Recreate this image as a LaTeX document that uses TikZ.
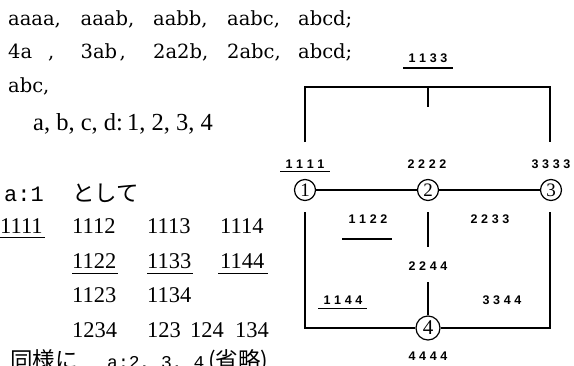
\documentclass[tikz,border=0pt]{standalone}
\usepackage{fontspec}
\setmainfont{Liberation Serif}
\newfontfamily\monof{Liberation Mono}
\newfontfamily\wsf{DejaVu Serif}
\newfontfamily\jpf{Noto Sans CJK JP}
\newfontfamily\labf{Liberation Sans}
\newcommand\gp{\hspace{3.6pt}}
\newcommand\lab[4]{#1\gp#2\gp#3\gp#4}
\begin{document}
\begin{tikzpicture}[x=1pt,y=-1pt,
  wrd/.style={anchor=base west,inner sep=0pt,font=\wsf\fontsize{19.5}{22}\selectfont},
  ser/.style={anchor=base west,inner sep=0pt,font=\fontsize{22.5}{26}\selectfont},
  monob/.style={anchor=base west,inner sep=0pt,font=\monof\fontsize{22}{24}\selectfont},
  jp/.style={anchor=base west,inner sep=0pt,font=\jpf\fontsize{22.5}{26}\selectfont},
  lab/.style={anchor=base,inner sep=0pt,font=\labf\bfseries\fontsize{12.5}{14}\selectfont},
  wire/.style={line width=1.3pt},
  uline/.style={line width=1.3pt},
  vtx/.style={circle,draw,line width=1.2pt,inner sep=0pt,minimum size=21pt,font=\fontsize{19}{20}\selectfont}]
\useasboundingbox (0,0) rectangle (574,365);
\clip (0,0) rectangle (574,365);
\fill[white] (0,0) rectangle (574,365);
% --- top text lines
\node[wrd] (w11) at (8,25) {aaaa,};
\node[wrd] (w12) at (80.5,25) {aaab,};
\node[wrd] (w13) at (153,25) {aabb,};
\node[wrd] (w14) at (227,25) {aabc,};
\node[wrd] (w15) at (298,25) {abcd;};
\node[wrd] (w21) at (8,58) {\makebox[40pt][l]{4a},};
\node[wrd] (w22) at (80.5,58) {\makebox[39pt][l]{3ab},};
\node[wrd] (w23) at (153,58) {2a2b,};
\node[wrd] (w24) at (227,58) {2abc,};
\node[wrd] (w25) at (298,58) {abcd;};
\node[wrd] (w31) at (8,92) {abc,};
\node[ser,font=\fontsize{24.5}{28}\selectfont] (w41) at (33,130) {a, b, c, d:\,1, 2, 3, 4};
% --- a:1 block
\node[monob] (a1) at (4,201) {a:1};
\node[jp] (toshite) at (72,201) {として};
\node[ser] (n1111) at (0,233) {1111};
\node[ser] (n1112) at (72,233) {1112};
\node[ser] (n1113) at (147,233) {1113};
\node[ser] (n1114) at (220,233) {1114};
\node[ser] (n1122) at (72,268) {1122};
\node[ser] (n1133) at (147,268) {1133};
\node[ser] (n1144) at (220,268) {1144};
\node[ser] (n1123) at (72,302) {1123};
\node[ser] (n1134) at (147,302) {1134};
\node[ser] (n1234) at (72,337) {1234};
\node[ser] (n123) at (147,337) {123};
\node[ser] (n124) at (190,337) {124};
\node[ser] (n134) at (235,337) {134};
\draw[uline] (n1111.south west) ++(0,4) -- ++(45,0);
\draw[uline] (n1122.south west) ++(0,5) -- ++(46,0);
\draw[uline] (n1133.south west) ++(0,5) -- ++(46,0);
\draw[uline] (n1144.south west) ++(-2,5) -- ++(50,0);
\node[jp] (doyo) at (10,368) {同様に};
\node[monob,font=\monof\fontsize{18}{20}\selectfont] (a234) at (107,368) {a:2, 3, 4};
\node[jp] (ryaku) at (208,368) {(省略)};
% --- diagram
\node[vtx] (v1) at (305,190) {1};
\node[vtx] (v2) at (428,190) {2};
\node[vtx] (v3) at (551,190) {3};
\node[vtx,minimum size=24pt,font=\fontsize{21}{22}\selectfont] (v4) at (428,328) {4};
\coordinate (tl) at (305,87);
\coordinate (tr) at (550,87);
\coordinate (tm) at (428,87);
\coordinate (tmb) at (428,107);
\coordinate (lb) at (305,142);
\coordinate (rb) at (550,142);
\coordinate (l2) at (305,212);
\coordinate (r2) at (550,212);
\coordinate (c2) at (428,212);
\coordinate (c2b) at (428,247);
\coordinate (c3) at (428,282);
\coordinate (bl) at (305,328);
\coordinate (br) at (550,328);
\draw[wire] (lb) -- (tl) -- (tr) -- (rb);
\draw[wire] (tm) -- (tmb);
\draw[wire] (v1) -- (v2) -- (v3);
\draw[wire] (l2) -- (bl) -- (v4) -- (br) -- (r2);
\draw[wire] (c2) -- (c2b);
\draw[wire] (c3) -- (v4);
% labels
\node[lab] (l1133) at (428,62) {\lab1133};
\draw[uline] (403,68) -- (453,68);
\node[lab] (l1111) at (305,168) {\lab1111};
\draw[uline] (280,171.5) -- (330,171.5);
\node[lab] (l2222) at (427,168) {\lab2222};
\node[lab] (l3333) at (551,168) {\lab3333};
\node[lab] (l1122) at (368,223) {\lab1122};
\draw[uline] (342,239) -- (392,239);
\node[lab] (l2233) at (490,223) {\lab2233};
\node[lab] (l2244) at (428,270) {\lab2244};
\node[lab] (l1144) at (343,304) {\lab1144};
\draw[uline] (318,308.5) -- (367,308.5);
\node[lab] (l3344) at (502,304) {\lab3344};
\node[lab] (l4444) at (428,360) {\lab4444};
\end{tikzpicture}
\end{document}
